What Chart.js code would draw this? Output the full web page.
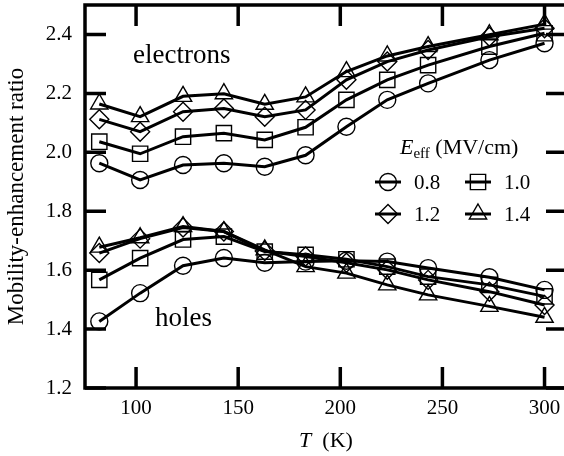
<!DOCTYPE html>
<html>
<head>
<meta charset="utf-8">
<script src="https://cdn.jsdelivr.net/npm/chart.js@4.4.1/dist/chart.umd.min.js"></script>
<style>
  html, body { margin: 0; padding: 0; background: #fff; overflow: hidden; }
  #wrap { width: 570px; height: 456px; }
</style>
</head>
<body>
<div id="wrap"><canvas id="c" width="570" height="456"></canvas></div>
<script>
// Temperature (K) at which the enhancement ratio was measured
const temperatureK = [82, 102, 123, 143, 163, 183, 203, 223, 243, 273, 300];

// Effective field values (MV/cm), one series per field
const fieldLabels = ['0.8', '1.0', '1.2', '1.4'];

// Electron mobility-enhancement ratio
const electrons08 = [1.963, 1.906, 1.957, 1.963, 1.951, 1.990, 2.087, 2.178, 2.234, 2.313, 2.370];
const electrons10 = [2.036, 1.995, 2.053, 2.065, 2.042, 2.085, 2.178, 2.246, 2.296, 2.359, 2.404];
const electrons12 = [2.112, 2.070, 2.138, 2.149, 2.121, 2.144, 2.246, 2.308, 2.347, 2.392, 2.421];
const electrons14 = [2.164, 2.121, 2.190, 2.199, 2.163, 2.188, 2.274, 2.327, 2.359, 2.399, 2.435];

// Hole mobility-enhancement ratio
const holes08 = [1.426, 1.522, 1.615, 1.641, 1.625, 1.629, 1.632, 1.629, 1.607, 1.576, 1.533];
const holes10 = [1.567, 1.641, 1.704, 1.714, 1.663, 1.652, 1.637, 1.612, 1.578, 1.550, 1.511];
const holes12 = [1.658, 1.707, 1.745, 1.731, 1.665, 1.646, 1.625, 1.601, 1.567, 1.527, 1.482];
const holes14 = [1.678, 1.710, 1.748, 1.731, 1.669, 1.612, 1.590, 1.550, 1.516, 1.477, 1.440];

// Axis tick values
const xTicks = [100, 150, 200, 250, 300];
const yTicks = [1.2, 1.4, 1.6, 1.8, 2.0, 2.2, 2.4];

const SERIF = '"Liberation Serif", "Times New Roman", serif';
const markerStyles = ['circle', 'rect', 'rectRot', 'triangle'];
const markerRadii = [8.5, 10.8, 9.5, 10];

function series(values, i, label) {
  return {
    label: label,
    data: values.map((v, k) => ({ x: temperatureK[k], y: v })),
    borderColor: '#000',
    borderWidth: 3,
    tension: 0,
    fill: false,
    pointStyle: markerStyles[i],
    pointRadius: markerRadii[i],
    pointBorderWidth: 1.4,
    pointBorderColor: '#000',
    pointBackgroundColor: 'rgba(0,0,0,0)'
  };
}

const datasets = [
  series(electrons08, 0, fieldLabels[0]),
  series(electrons10, 1, fieldLabels[1]),
  series(electrons12, 2, fieldLabels[2]),
  series(electrons14, 3, fieldLabels[3]),
  series(holes08, 0, fieldLabels[0]),
  series(holes10, 1, fieldLabels[1]),
  series(holes12, 2, fieldLabels[2]),
  series(holes14, 3, fieldLabels[3])
];

const TICK_LEN = 21;

// Closed frame with inward tick marks on all four sides
const frameTicks = {
  id: 'frameTicks',
  beforeDatasetsDraw(chart) {
    const { ctx, chartArea: a, scales: { x, y } } = chart;
    ctx.save();
    ctx.strokeStyle = '#000';
    ctx.lineWidth = 3.5;
    ctx.lineCap = 'butt';
    ctx.beginPath();
    x.ticks.forEach(t => {
      const px = x.getPixelForValue(t.value);
      ctx.moveTo(px, a.bottom); ctx.lineTo(px, a.bottom - TICK_LEN);
      ctx.moveTo(px, a.top); ctx.lineTo(px, a.top + TICK_LEN);
    });
    y.ticks.forEach(t => {
      const py = y.getPixelForValue(t.value);
      ctx.moveTo(a.left, py); ctx.lineTo(a.left + TICK_LEN, py);
      ctx.moveTo(a.right, py); ctx.lineTo(a.right - TICK_LEN, py);
    });
    ctx.stroke();
    ctx.strokeRect(a.left, a.top, a.right - a.left, a.bottom - a.top);
    ctx.restore();
  }
};

// Group labels, field legend and the x-axis title
const annotations = {
  id: 'annotations',
  afterDraw(chart) {
    const { ctx, scales: { x, y } } = chart;
    ctx.save();
    ctx.fillStyle = '#000';
    ctx.textBaseline = 'alphabetic';
    ctx.textAlign = 'left';

    ctx.font = '27px ' + SERIF;
    ctx.fillText('electrons', x.getPixelForValue(98.5), y.getPixelForValue(2.303));
    ctx.fillText('holes', x.getPixelForValue(109.3), y.getPixelForValue(1.411));

    // Legend title: E_eff (MV/cm)
    let tx = 400, ty = 154;
    ctx.font = 'italic 22px ' + SERIF;
    ctx.fillText('E', tx, ty);
    tx += ctx.measureText('E').width;
    ctx.font = '15px ' + SERIF;
    ctx.fillText('eff', tx, ty + 4);
    tx += ctx.measureText('eff').width;
    ctx.font = '22px ' + SERIF;
    ctx.fillText(' (MV/cm)', tx, ty);

    // Legend entries, two columns
    const cols = [388, 478];
    const rows = [182, 214];
    ctx.font = '21px ' + SERIF;
    chart.data.datasets.slice(0, 4).forEach((ds, i) => {
      const cx = cols[i % 2];
      const cy = rows[Math.floor(i / 2)];
      ctx.strokeStyle = '#000';
      ctx.lineWidth = 3;
      ctx.beginPath();
      ctx.moveTo(cx - 13, cy);
      ctx.lineTo(cx + 13, cy);
      ctx.stroke();
      ctx.lineWidth = 1.4;
      ctx.fillStyle = 'rgba(0,0,0,0)';
      Chart.helpers.drawPoint(ctx, {
        pointStyle: ds.pointStyle,
        radius: ds.pointRadius,
        rotation: 0,
        borderWidth: 1.4
      }, cx, cy);
      ctx.fillStyle = '#000';
      ctx.textBaseline = 'middle';
      ctx.fillText(ds.label, cx + 26, cy + 1);
      ctx.textBaseline = 'alphabetic';
    });

    // x-axis title: T (K)
    const a = chart.chartArea;
    ctx.font = 'italic 22px ' + SERIF;
    const wT = ctx.measureText('T').width;
    ctx.font = '22px ' + SERIF;
    const wK = ctx.measureText('  (K)').width;
    const sx = (a.left + a.right) / 2 - (wT + wK) / 2;
    ctx.font = 'italic 22px ' + SERIF;
    ctx.fillText('T', sx, 447);
    ctx.font = '22px ' + SERIF;
    ctx.fillText('  (K)', sx + wT, 447);
    ctx.restore();
  }
};

new Chart(document.getElementById('c'), {
  type: 'line',
  data: { datasets: datasets },
  options: {
    responsive: false,
    animation: false,
    events: [],
    // the right edge of the frame falls just outside the visible page
    layout: { autoPadding: false, padding: { top: 5, right: 3, left: 0, bottom: 0 } },
    plugins: { legend: { display: false }, tooltip: { enabled: false } },
    scales: {
      x: {
        type: 'linear',
        min: 75,
        max: 311,
        grid: { display: false, drawTicks: false },
        border: { display: false },
        afterBuildTicks: s => { s.ticks = xTicks.map(v => ({ value: v })); },
        afterFit: s => { s.height = 68; s.paddingLeft = 0; s.paddingRight = 0; },
        ticks: {
          color: '#000',
          padding: 8,
          font: { family: SERIF, size: 21 },
          callback: v => String(v)
        }
      },
      y: {
        type: 'linear',
        min: 1.2,
        max: 2.5,
        grid: { display: false, drawTicks: false },
        border: { display: false },
        afterBuildTicks: s => { s.ticks = yTicks.map(v => ({ value: v })); },
        afterFit: s => { s.width = 85; s.paddingTop = 0; s.paddingBottom = 0; },
        title: {
          display: true,
          text: 'Mobility-enhancement ratio',
          color: '#000',
          font: { family: SERIF, size: 23 },
          padding: { top: 3, bottom: 0 }
        },
        ticks: {
          color: '#000',
          padding: 13,
          font: { family: SERIF, size: 21 },
          callback: v => Number(v).toFixed(1)
        }
      }
    }
  },
  plugins: [frameTicks, annotations]
});
</script>
</body>
</html>
